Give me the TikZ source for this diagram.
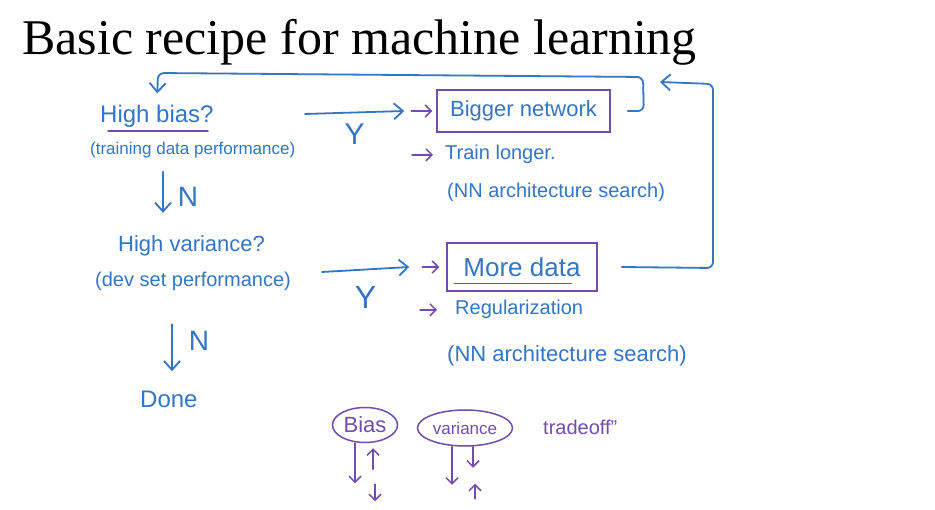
\documentclass[tikz,border=0pt]{standalone}
\usepackage{fontspec}
\setmainfont{Liberation Serif}
\newfontfamily\handfont{Liberation Sans}
\usetikzlibrary{arrows.meta,positioning,shapes.geometric}
\usepackage{xcolor}
\definecolor{penblue}{RGB}{52,117,196}
\definecolor{penpurple}{RGB}{112,78,170}

\begin{document}
\begin{tikzpicture}[
  x=1pt, y=-1pt,
  hand/.style={anchor=base west, inner sep=0pt, text=penblue, font=\handfont\fontsize{#1}{#1}\selectfont},
  hand/.default=20,
  box/.style={draw=penpurple, line width=1.5pt, inner sep=0pt, text=penblue, font=\handfont\fontsize{#1}{#1}\selectfont},
  ell/.style={ellipse, draw=penpurple, line width=1.5pt, inner sep=0pt, text=penpurple, font=\handfont\fontsize{#1}{#1}\selectfont},
  arr/.style={penblue, line width=1.8pt, line cap=round, -{Straight Barb[length=9pt, width=16pt]}},
  parr/.style={penpurple, line width=1.5pt, line cap=round, -{Straight Barb[length=6pt, width=12pt]}},
  pline/.style={penpurple, line width=1.5pt, line cap=round}
]
\path[fill=white, use as bounding box] (0,0) rectangle (935,510);

\node[anchor=base west, inner sep=0pt, font=\fontsize{50}{50}\selectfont] (title) at (22,55) {Basic recipe for machine learning};

% left column: the two questions
\node[hand=24] (hb) at (100,123) {High bias?};
\node[hand=17] (hbp) at (90,155) {(training data performance)};
\node[hand=22] (hv) at (118,252) {High variance?};
\node[hand=20] (hvp) at (95,287) {(dev set performance)};
\node[hand=24] (done) at (140,408) {Done};
\draw[pline] ([xshift=8pt, yshift=-8pt]hb.base west) -- ++(100,0);

% right column: the remedies
\node[box=22, minimum width=173pt, minimum height=42pt] (big) at (523.5,111) {Bigger network};
\node[hand=20] (tl) at (445,160) {Train longer.};
\node[hand=20] (nn1) at (447,198) {(NN architecture search)};
\node[box=26, minimum width=150pt, minimum height=48pt] (md) at (522,267) {More data};
\draw[pline] ([xshift=8pt, yshift=8pt]md.south west) -- ++(117,0);
\node[hand=20] (reg) at (455,315) {Regularization};
\node[hand=22] (nn2) at (447,362) {(NN architecture search)};

% yes / no arrows
\coordinate (k1) at (163,0);
\coordinate (k2) at (172,0);
\coordinate (y1s) at (305,114);
\coordinate (y2s) at (322,272);
\draw[arr, shorten <=13pt, shorten >=23pt] (hbp.south -| k1) -- (hv.north -| k1)
  node[midway, right=14pt, hand=28, anchor=west] (n1) {N};
\draw[arr, shorten <=33pt, shorten >=20pt] (hvp.south -| k2) -- (done.north -| k2)
  node[midway, right=16pt, hand=28, anchor=west] (n2) {N};
\draw[arr] (y1s) -- ([xshift=-32pt]big.west)
  node[midway, below=10pt, hand=30, anchor=north] (ylab1) {Y};
\draw[arr] (y2s) -- ([xshift=-37pt]md.west)
  node[midway, below=16pt, hand=32, anchor=north] (ylab2) {Y};
\draw[parr] ([xshift=-25pt]big.west) -- ([xshift=-4pt]big.west);
\draw[parr] ([xshift=-33pt]tl.west) -- ([xshift=-12pt]tl.west);
\draw[parr] ([xshift=-24pt]md.west) -- ([xshift=-7pt]md.west);
\draw[parr] ([xshift=-35pt]reg.west) -- ([xshift=-18pt]reg.west);

% loops back to the top
\coordinate (rj) at (660,82);
\draw[arr, rounded corners=6pt, shorten >=12pt] ([xshift=17pt]big.east) -- ++(16,0) -- (643,77) -- (158,73) -- (hb.north);
\draw[arr, rounded corners=6pt] ([xshift=24pt]md.east) -- (713,268) -- (713,84) -- (rj);

% bias / variance tradeoff
\node[ell=22, minimum width=65pt, minimum height=35pt] (bias) at (365,425) {Bias};
\node[ell=17, minimum width=95pt, minimum height=36pt] (var) at (465,428) {variance};
\node[hand=20, text=penpurple] (trade) at (543,435) {tradeoff\textquotedblright};
\draw[parr] ([xshift=-10pt]bias.south) -- ++(0,40);
\draw[parr] ([xshift=8pt, yshift=-26pt]bias.south) -- ++(0,-21);
\draw[parr] ([xshift=10pt, yshift=-41pt]bias.south) -- ++(0,17);
\draw[parr] ([xshift=-13pt]var.south) -- ++(0,38);
\draw[parr] ([xshift=8pt]var.south) -- ++(0,21);
\draw[parr] ([xshift=10pt, yshift=-52pt]var.south) -- ++(0,-15);
\end{tikzpicture}
\end{document}
